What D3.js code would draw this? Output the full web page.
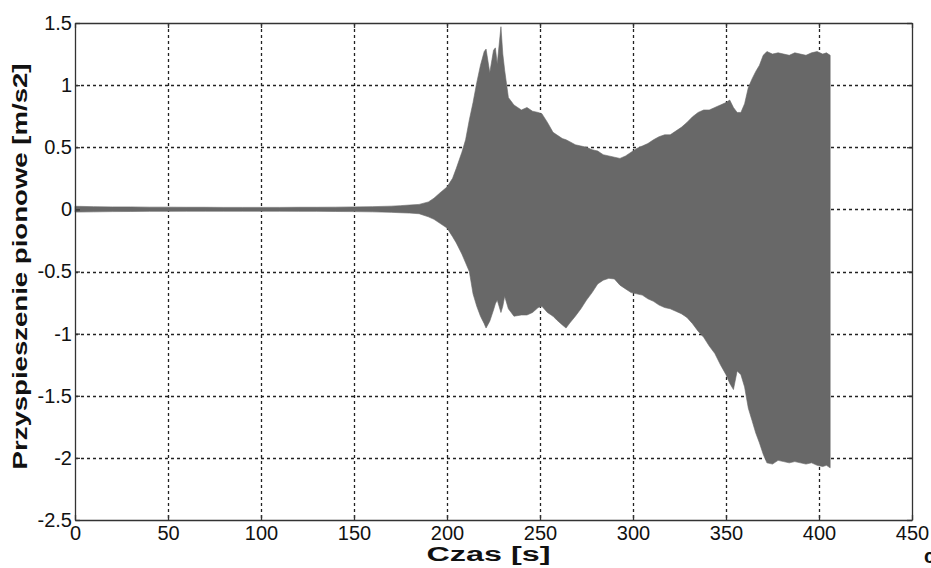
<!DOCTYPE html>
<html>
<head>
<meta charset="utf-8">
<script src="https://cdn.jsdelivr.net/npm/d3@7"></script>
<style>
  body { margin: 0; background: #fff; }
  svg { display: block; }
</style>
</head>
<body>
<div class="chart"></div>
<script>
var svgWidth = 931;
var svgHeight = 568;

var margin = {top: 23, right: 19, bottom: 48, left: 75};

var height = svgHeight - margin.top - margin.bottom;
var width = svgWidth - margin.left - margin.right;

// time [s] of the envelope samples
var timeVals = [0, 10, 20, 30, 40, 50, 60, 70, 80, 90, 100, 110, 120, 130, 140, 150, 160, 170, 175, 180,
  185, 190, 193, 196, 200, 203, 205, 208, 210, 212, 214, 216, 218, 220, 221, 223, 225, 226, 227, 229,
  230, 231, 233, 236, 240, 243, 246, 249, 251, 254, 257, 259, 262, 264, 266, 269, 272, 275, 278, 281,
  284, 287, 290, 293, 296, 299, 302, 305, 308, 311, 314, 317, 320, 323, 326, 329, 332, 335, 338, 341,
  344, 347, 350, 352, 354, 356, 358, 360, 362, 364, 366, 368, 370, 372, 375, 378, 381, 384, 387, 390,
  393, 396, 399, 402, 404, 406];

// upper envelope of the acceleration [m/s2]
var upperVals = [0.025, 0.022, 0.02, 0.02, 0.018, 0.018, 0.017, 0.017, 0.016, 0.016, 0.016, 0.016, 0.017, 0.017, 0.018, 0.02, 0.022, 0.026, 0.03, 0.035,
  0.04, 0.06, 0.09, 0.13, 0.18, 0.25, 0.33, 0.46, 0.56, 0.72, 0.86, 1.02, 1.16, 1.27, 1.29, 1.1, 1.28, 1.3, 1.17, 1.47,
  1.25, 1.12, 0.9, 0.84, 0.8, 0.82, 0.79, 0.78, 0.77, 0.7, 0.62, 0.6, 0.57, 0.56, 0.545, 0.52, 0.51, 0.5, 0.48, 0.47,
  0.44, 0.43, 0.42, 0.41, 0.43, 0.46, 0.49, 0.51, 0.53, 0.56, 0.585, 0.6, 0.6, 0.63, 0.66, 0.7, 0.745, 0.78, 0.8, 0.8,
  0.82, 0.84, 0.86, 0.88, 0.82, 0.78, 0.78, 0.85, 0.98, 1.05, 1.11, 1.16, 1.24, 1.27, 1.25, 1.26, 1.25, 1.24, 1.26, 1.25,
  1.24, 1.26, 1.27, 1.25, 1.26, 1.24];

// lower envelope of the acceleration [m/s2]
var lowerVals = [-0.022, -0.02, -0.018, -0.017, -0.016, -0.016, -0.015, -0.015, -0.015, -0.015, -0.015, -0.015, -0.016, -0.016, -0.017, -0.018, -0.02, -0.024, -0.027, -0.03,
  -0.035, -0.06, -0.08, -0.11, -0.15, -0.22, -0.27, -0.36, -0.43, -0.5, -0.68, -0.78, -0.86, -0.92, -0.955, -0.9, -0.81, -0.76, -0.73, -0.83,
  -0.78, -0.7, -0.8, -0.86, -0.85, -0.85, -0.83, -0.79, -0.78, -0.83, -0.86, -0.89, -0.93, -0.955, -0.915, -0.86, -0.8, -0.73, -0.67, -0.6,
  -0.57, -0.555, -0.56, -0.61, -0.64, -0.67, -0.68, -0.69, -0.72, -0.74, -0.77, -0.79, -0.8, -0.82, -0.84, -0.87, -0.92, -0.98, -1.03, -1.1,
  -1.16, -1.25, -1.33, -1.4, -1.45, -1.3, -1.33, -1.43, -1.6, -1.7, -1.8, -1.88, -1.97, -2.04, -2.05, -2.02, -2.03, -2.04, -2.03, -2.04,
  -2.05, -2.04, -2.06, -2.07, -2.06, -2.08];

var xTicks = [0, 50, 100, 150, 200, 250, 300, 350, 400, 450];
var yTicks = [-2.5, -2, -1.5, -1, -0.5, 0, 0.5, 1, 1.5];

var xLabel = "Czas [s]";
var yLabel = "Przyspieszenie pionowe [m/s2]";

var envData = timeVals.map(function(t, i) {
  return {t: t, hi: upperVals[i], lo: lowerVals[i]};
});

var svg = d3.select(".chart")
  .append("svg")
  .attr("height", svgHeight)
  .attr("width", svgWidth)
  .style("font-family", "Liberation Sans, Arial, sans-serif");

var chartGroup = svg.append("g").attr("transform", `translate(${margin.left}, ${margin.top})`);

var xScale = d3.scaleLinear().domain([0, 450]).range([0, width]);
var yScale = d3.scaleLinear().domain([-2.5, 1.5]).range([height, 0]);

// grid
chartGroup.append("g")
  .selectAll("line")
  .data(xTicks.slice(1, -1))
  .enter()
  .append("line")
  .attr("x1", d => Math.round(xScale(d)) + 0.5)
  .attr("x2", d => Math.round(xScale(d)) + 0.5)
  .attr("y1", 0)
  .attr("y2", height)
  .attr("stroke", "#222")
  .attr("stroke-width", 1.3)
  .attr("stroke-dasharray", "3,3");

chartGroup.append("g")
  .selectAll("line")
  .data(yTicks.slice(1, -1))
  .enter()
  .append("line")
  .attr("x1", 0)
  .attr("x2", width)
  .attr("y1", d => Math.round(yScale(d)) + 0.5)
  .attr("y2", d => Math.round(yScale(d)) + 0.5)
  .attr("stroke", "#222")
  .attr("stroke-width", 1.3)
  .attr("stroke-dasharray", "3,3");

// signal envelope
var area = d3.area()
  .x(d => xScale(d.t))
  .y0(d => yScale(d.lo))
  .y1(d => yScale(d.hi));

chartGroup.append("path")
  .datum(envData)
  .attr("d", area)
  .attr("fill", "#686868")
  .attr("stroke", "#686868")
  .attr("stroke-width", 0.6);

// axes, MATLAB style: ticks inside, box on all sides
var fmt = d => String(d);
var bottomAxis = d3.axisBottom(xScale).tickValues(xTicks).tickFormat(fmt).tickSizeInner(-5).tickSizeOuter(0).tickPadding(5);
var leftAxis = d3.axisLeft(yScale).tickValues(yTicks).tickFormat(fmt).tickSizeInner(-5).tickSizeOuter(0).tickPadding(3);
var topAxis = d3.axisTop(xScale).tickValues(xTicks).tickSizeInner(-5).tickSizeOuter(0).tickFormat("");
var rightAxis = d3.axisRight(yScale).tickValues(yTicks).tickSizeInner(-5).tickSizeOuter(0).tickFormat("");

var gx = chartGroup.append("g").attr("transform", `translate(0, ${height})`).call(bottomAxis);
var gy = chartGroup.append("g").call(leftAxis);
var gt = chartGroup.append("g").call(topAxis);
var gr = chartGroup.append("g").attr("transform", `translate(${width}, 0)`).call(rightAxis);

[gx, gy, gt, gr].forEach(function(g) {
  g.select(".domain").attr("stroke", "#333").attr("stroke-width", 1.3);
  g.selectAll(".tick line").attr("stroke", "#333").attr("stroke-width", 1.3);
  g.selectAll("text")
    .attr("fill", "#111")
    .style("font-size", "20px")
    .style("font-family", "Liberation Sans, Arial, sans-serif");
});

gx.selectAll("text").attr("dy", "0.75em");

// axis labels
chartGroup.append("text")
  .attr("x", width / 2 - 5)
  .attr("y", height + 41)
  .attr("text-anchor", "middle")
  .attr("textLength", 124)
  .attr("lengthAdjust", "spacingAndGlyphs")
  .style("font-size", "20px")
  .style("font-weight", "bold")
  .attr("fill", "#111")
  .text(xLabel);

chartGroup.append("text")
  .attr("transform", `translate(-48, ${height / 2 - 5}) rotate(-90)`)
  .attr("text-anchor", "middle")
  .attr("textLength", 406)
  .attr("lengthAdjust", "spacingAndGlyphs")
  .style("font-size", "21px")
  .style("font-weight", "bold")
  .attr("fill", "#111")
  .text(yLabel);

// cut-off letter at the lower right corner of the scan
svg.append("text")
  .attr("x", 924)
  .attr("y", 563)
  .style("font-size", "20px")
  .style("font-weight", "bold")
  .attr("fill", "#111")
  .text("c");
</script>
</body>
</html>
